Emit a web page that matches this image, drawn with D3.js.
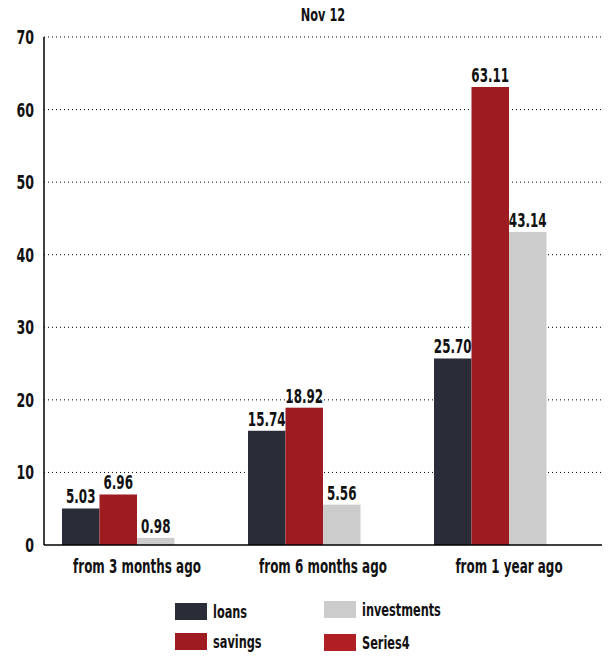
<!DOCTYPE html>
<html>
<head>
<meta charset="utf-8">
<script src="https://cdn.jsdelivr.net/npm/d3@7"></script>
<style>
  body { margin: 0; background: #fff; }
  svg text { font-family: "DejaVu Sans Condensed", "DejaVu Sans", sans-serif; font-weight: bold; fill: #111; }
</style>
</head>
<body>
<div id="chart"></div>
<script>
var categories = ["from 3 months ago", "from 6 months ago", "from 1 year ago"]
var seriesNames = ["loans", "savings", "investments", "Series4"]
var loans = [5.03, 15.74, 25.70]
var savings = [6.96, 18.92, 63.11]
var investments = [0.98, 5.56, 43.14]
var series4 = [null, null, null]
var yTicks = [0, 10, 20, 30, 40, 50, 60, 70]
var colors = ["#2a2d38", "#9e1b22", "#cccccc", "#b01f24"]

var width = 608, height = 659
var margin = {top: 37, right: 6, bottom: 114, left: 44}
var squeeze = 0.7

var svg = d3.select("#chart").append("svg")
	.attr("width", width)
	.attr("height", height)

// condensed look: draw text at origin and scale it horizontally
function place(x, y) {
	return `translate(${x},${y}) scale(${squeeze},1)`
}

var values = [loans, savings, investments, series4]

var x0 = d3.scaleBand()
	.domain(categories)
	.range([margin.left, width - margin.right])

var x1 = d3.scaleBand()
	.domain(seriesNames)
	.range([0, x0.bandwidth()])
	.paddingOuter(0.48)

var y = d3.scaleLinear()
	.domain([0, 70])
	.range([height - margin.bottom, margin.top])

// title
svg.append("text")
	.attr("transform", place((margin.left + width - margin.right) / 2, 21))
	.attr("text-anchor", "middle")
	.attr("font-size", 18)
	.text("Nov 12")

// grid
svg.append("g")
	.selectAll("line")
	.data(yTicks.filter(d => d > 0))
	.join("line")
		.attr("x1", margin.left)
		.attr("x2", width - margin.right)
		.attr("y1", d => y(d))
		.attr("y2", d => y(d))
		.attr("stroke", "#000")
		.attr("stroke-width", 1)
		.attr("stroke-dasharray", "1,3")

// y axis labels
svg.append("g")
	.selectAll("text")
	.data(yTicks)
	.join("text")
		.attr("transform", d => place(margin.left - 10, y(d) + 7))
		.attr("text-anchor", "end")
		.attr("font-size", 20)
		.text(d => d)

// bars
var groups = svg.append("g")
	.selectAll("g")
	.data(categories)
	.join("g")
		.attr("transform", d => `translate(${x0(d)},0)`)

var barData = (c, i) => seriesNames
	.map((s, j) => ({series: s, value: values[j][i], color: colors[j]}))
	.filter(d => d.value != null)

groups.selectAll("rect")
	.data(barData)
	.join("rect")
		.attr("x", d => x1(d.series))
		.attr("width", x1.bandwidth())
		.attr("y", d => y(d.value))
		.attr("height", d => y(0) - y(d.value))
		.attr("fill", d => d.color)

groups.selectAll("text.val")
	.data(barData)
	.join("text")
		.attr("class", "val")
		.attr("transform", d => place(x1(d.series) + x1.bandwidth() / 2, y(d.value) - 5))
		.attr("text-anchor", "middle")
		.attr("font-size", 19)
		.text(d => d.value.toFixed(2))

// axes lines
svg.append("line")
	.attr("x1", margin.left).attr("x2", margin.left)
	.attr("y1", y(70)).attr("y2", y(0))
	.attr("stroke", "#000").attr("stroke-width", 1.5)

svg.append("line")
	.attr("x1", margin.left).attr("x2", width - margin.right)
	.attr("y1", y(0)).attr("y2", y(0))
	.attr("stroke", "#000").attr("stroke-width", 1.5)

// category labels
svg.append("g")
	.selectAll("text")
	.data(categories)
	.join("text")
		.attr("transform", d => place(x0(d) + x0.bandwidth() / 2, y(0) + 28))
		.attr("text-anchor", "middle")
		.attr("font-size", 19)
		.text(d => d)

// legend
var legendPos = [[175, 603], [175, 633], [324, 601], [324, 634]]
var legend = svg.append("g")
	.selectAll("g")
	.data(seriesNames)
	.join("g")
		.attr("transform", (d, i) => `translate(${legendPos[i][0]},${legendPos[i][1]})`)

legend.append("rect")
	.attr("width", 32)
	.attr("height", 17)
	.attr("fill", (d, i) => colors[i])

legend.append("text")
	.attr("transform", place(38, 15))
	.attr("font-size", 18)
	.text(d => d)
</script>
</body>
</html>
